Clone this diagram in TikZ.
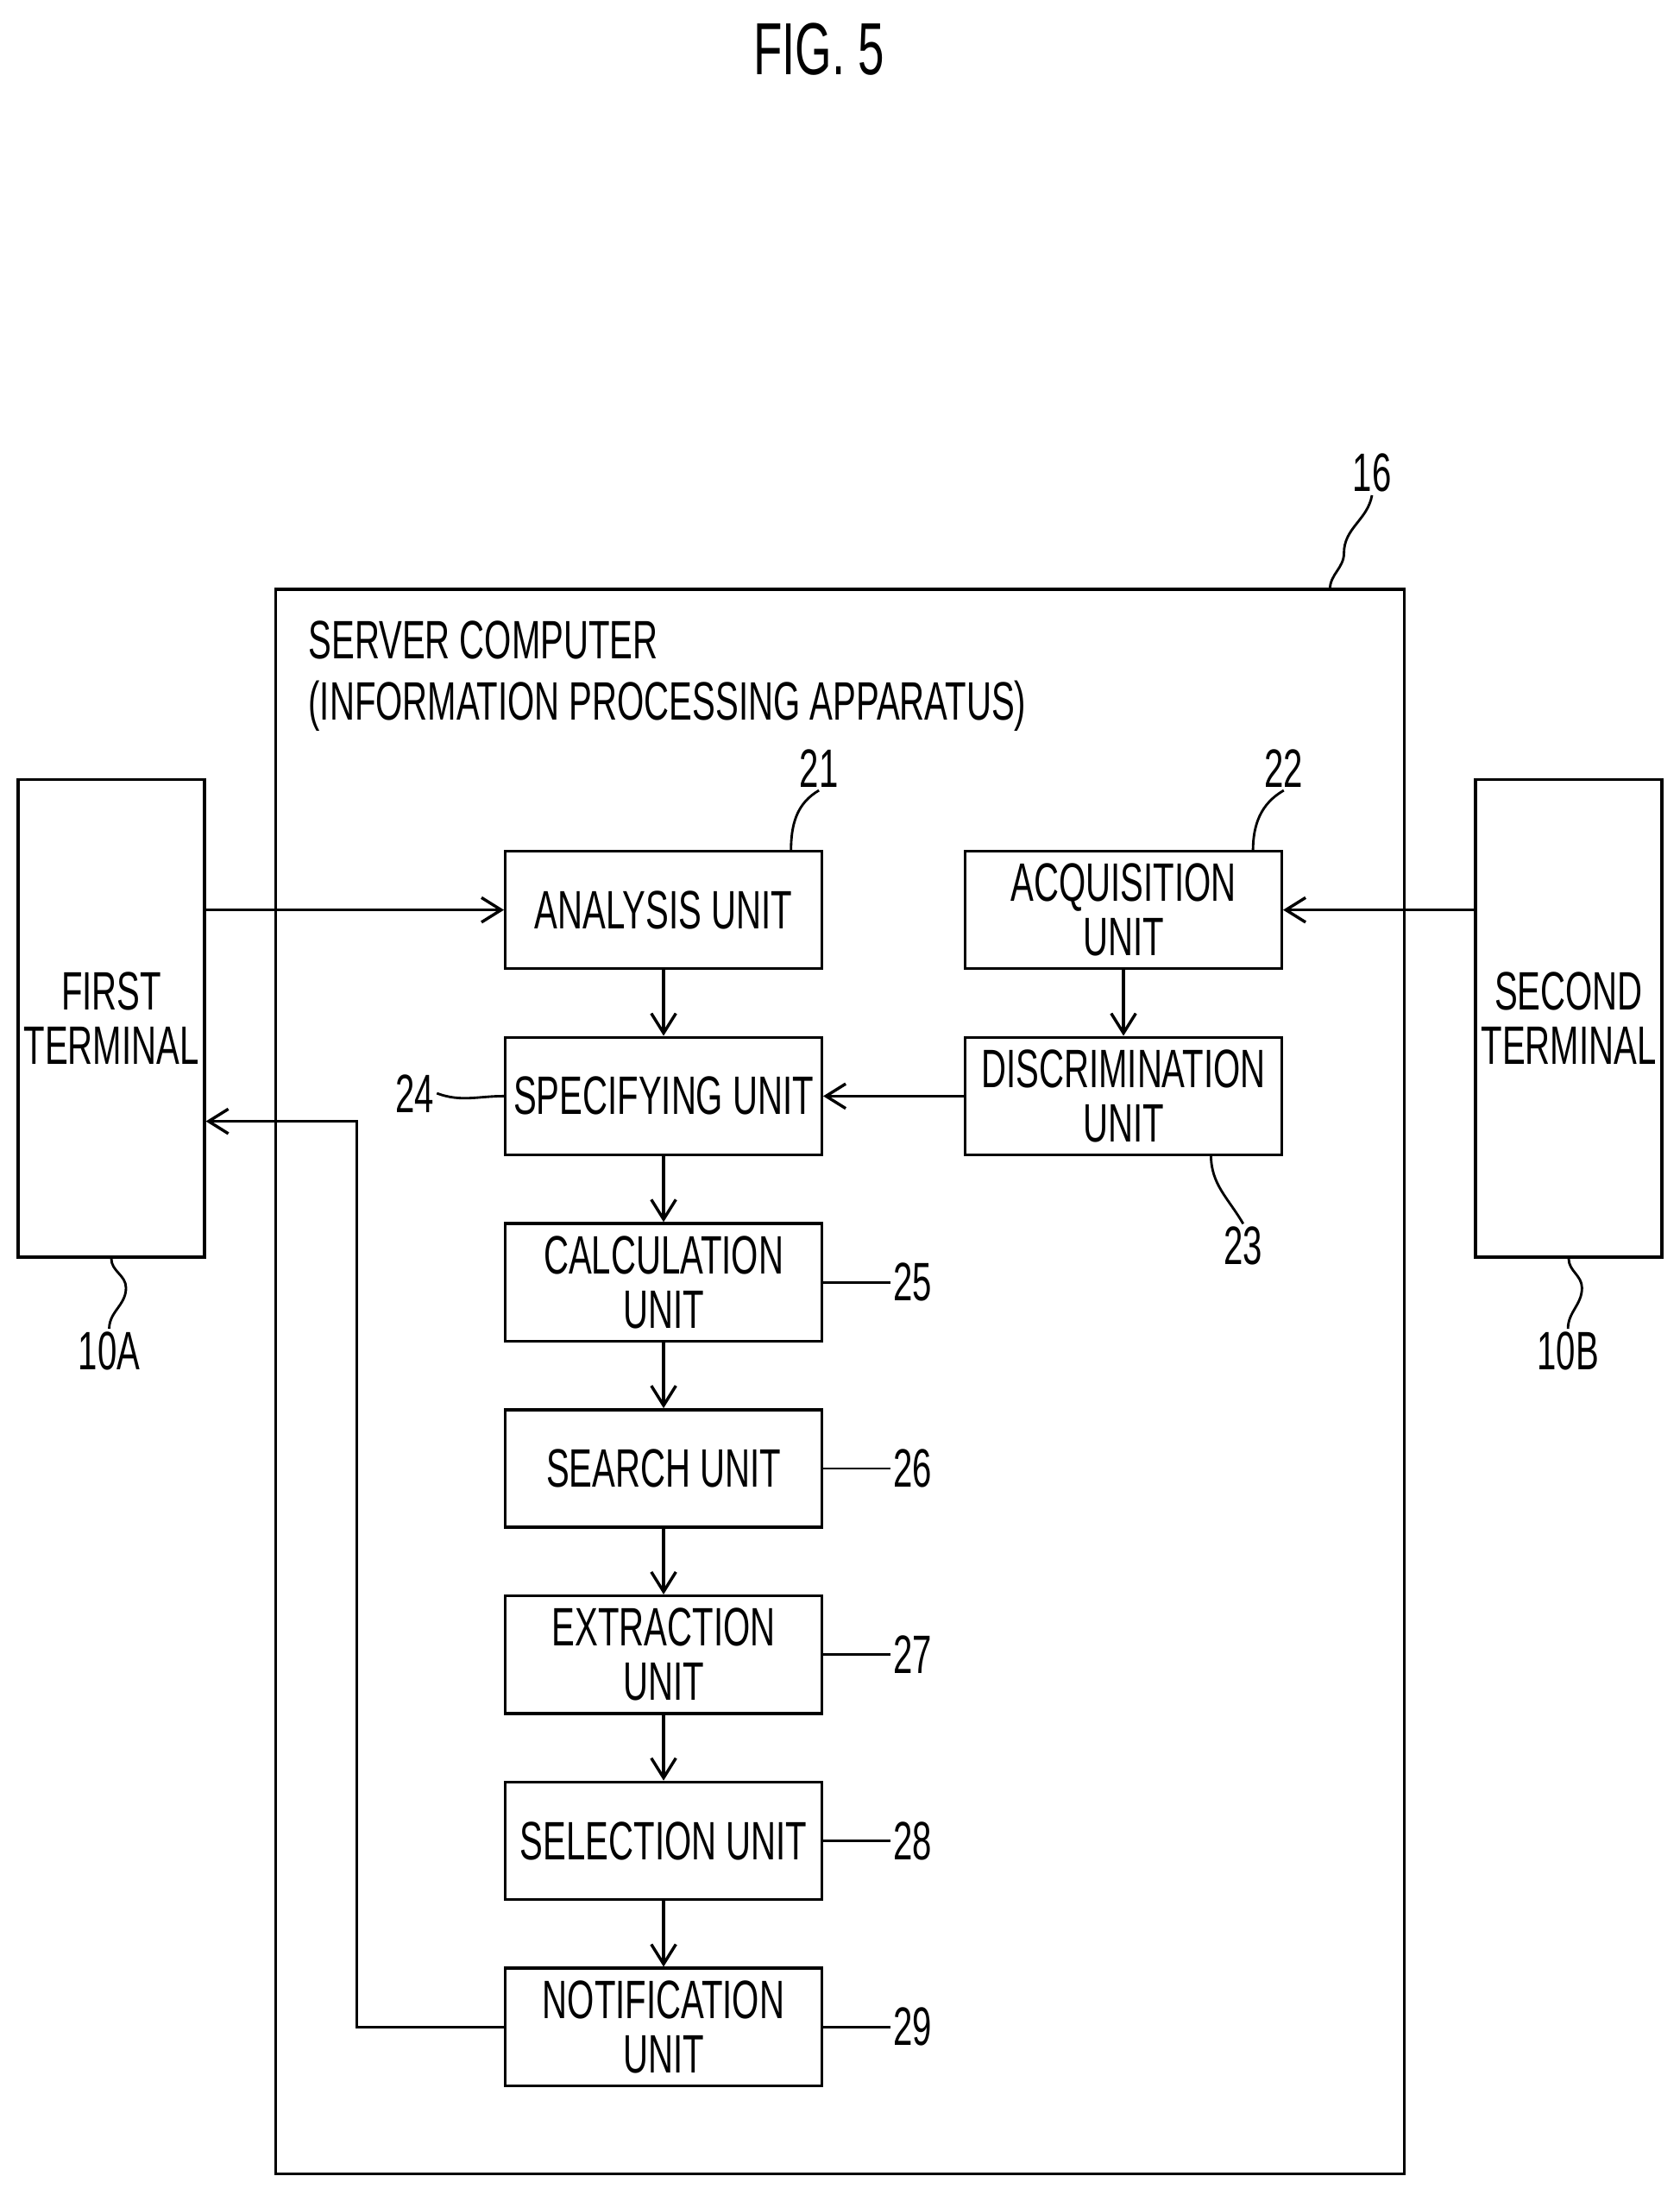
\documentclass[tikz,border=0pt]{standalone}
\usepackage{fontspec}
\setmainfont{Liberation Sans}[FakeStretch=0.64]
\usetikzlibrary{arrows.meta, positioning, calc}

\begin{document}
\begin{tikzpicture}[
          x=0.02cm, y=-0.02cm,
          unit/.style={draw, line width=1.2pt, minimum width=4.52cm, minimum height=1.68cm,
                       inner sep=0pt, align=center, font=\fontsize{22}{22}\selectfont},
          terminal/.style={draw, line width=1.2pt, minimum width=2.66cm, minimum height=6.82cm,
                       inner sep=0pt, align=center, font=\fontsize{22}{22}\selectfont},
          num/.style={font=\fontsize{22}{22}\selectfont, inner sep=1pt},
          flow/.style={-{Straight Barb[length=8pt,width=10pt]}, line width=1.2pt},
          lead/.style={line width=1pt},
          >=Stealth
        ]
        \useasboundingbox (0,0) rectangle (1200,1568);
        \node [font=\fontsize{30}{30}\selectfont] (title) at (585,35) {FIG. 5};

        % server computer
        \draw [line width=1.2pt] (197,421) rectangle (1003,1553);
        \coordinate (srvtop) at (950,421);
        \node [num] (n16) at (980,338) {16};
        \draw [lead] (srvtop) to[out=90,in=-90] (960,395) to[out=90,in=-100] (n16.south);
        \node [anchor=north west, align=left, font=\fontsize{22}{25}\selectfont, inner sep=0pt]
          (srvlabel) at (220,443) {SERVER COMPUTER\\(INFORMATION PROCESSING APPARATUS)};

        % terminals
        \node [terminal] (first) at (79.5,727.5) {FIRST\\TERMINAL};
        \node [terminal] (second) at (1120.5,727.5) {SECOND\\TERMINAL};
        \node [num] (n10A) at (78,965) {10A};
        \node [num] (n10B) at (1120,965) {10B};
        \draw [lead] (first.south) to[out=-90,in=90] (90,920) to[out=-90,in=90] (n10A.north);
        \draw [lead] (second.south) to[out=-90,in=90] (1130,920) to[out=-90,in=90] (n10B.north);

        % units
        \node [unit] (analysis) at (474,650) {ANALYSIS UNIT};
        \node [unit] (acquisition) at (802.5,650) {ACQUISITION\\UNIT};
        \node [unit] (specifying) at (474,783) {SPECIFYING UNIT};
        \node [unit] (discrimination) at (802.5,783) {DISCRIMINATION\\UNIT};
        \node [unit] (calculation) at (474,916) {CALCULATION\\UNIT};
        \node [unit] (search) at (474,1049) {SEARCH UNIT};
        \node [unit] (extraction) at (474,1182) {EXTRACTION\\UNIT};
        \node [unit] (selection) at (474,1315) {SELECTION UNIT};
        \node [unit] (notification) at (474,1448) {NOTIFICATION\\UNIT};

        % reference numerals
        \node [num] (n21) at (585,549) {21};
        \draw [lead] (565,608) to[out=90,in=-150] (n21.south);
        \node [num] (n22) at (917,549) {22};
        \draw [lead] (895,608) to[out=90,in=-150] (n22.south);
        \node [num] (n23) at (888,890) {23};
        \draw [lead] (865,825) to[out=-90,in=120] (n23.north);
        \node [num, anchor=east] (n24) at (312,781) {24};
        \draw [lead] (n24.east) to[out=-20,in=180] (specifying.west);
        \foreach \nm/\lab in {calculation/25, search/26, extraction/27, selection/28, notification/29} {
          \node [num, anchor=west] (n\lab) at ($(\nm.east)+(48,0)$) {\lab};
          \draw [lead] (\nm.east) to[out=0,in=180] (n\lab.west);
        }

        % connectors
        \draw [flow] (first.east |- analysis) -- (analysis.west);
        \draw [flow] (second.west |- acquisition) -- (acquisition.east);
        \draw [flow] (acquisition) -- (discrimination);
        \draw [flow] (discrimination) -- (specifying);
        \draw [flow] (analysis) -- (specifying);
        \draw [flow] (specifying) -- (calculation);
        \draw [flow] (calculation) -- (search);
        \draw [flow] (search) -- (extraction);
        \draw [flow] (extraction) -- (selection);
        \draw [flow] (selection) -- (notification);
        \draw [flow] (notification.west) -- (255,1448) -- (255,801) -- (first.east |- 0,801);
        \end{tikzpicture}
\end{document}
